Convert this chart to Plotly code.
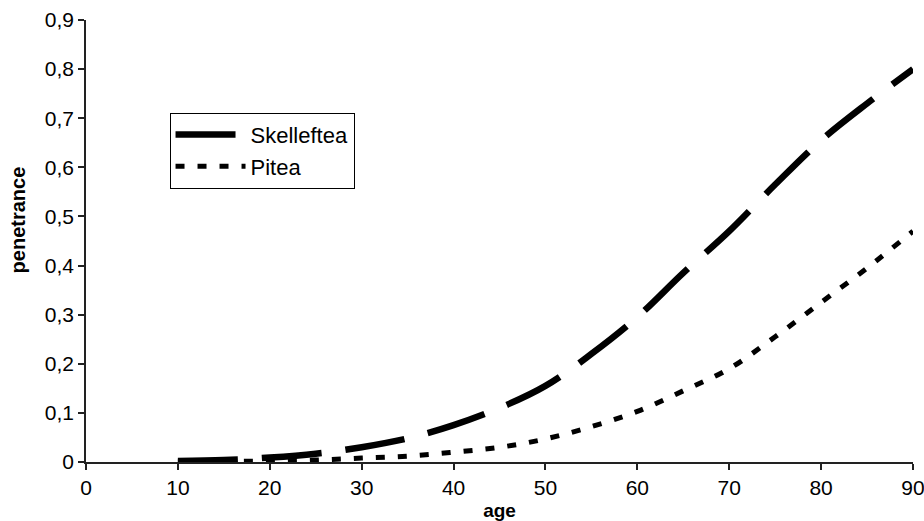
import plotly.graph_objects as go

age = [10, 15, 20, 25, 30, 35, 40, 45, 50, 55, 60, 65, 70, 75, 80, 85, 90]
skelleftea = [0.002, 0.004, 0.009, 0.017, 0.03, 0.048, 0.075, 0.11, 0.155, 0.22,
              0.295, 0.385, 0.47, 0.565, 0.655, 0.73, 0.80]
pitea = [0.0005, 0.001, 0.002, 0.004, 0.008, 0.012, 0.02, 0.03, 0.047, 0.072,
         0.103, 0.145, 0.19, 0.255, 0.325, 0.395, 0.47]

x_ticks = [0, 10, 20, 30, 40, 50, 60, 70, 80, 90]
y_ticks = [0, 0.1, 0.2, 0.3, 0.4, 0.5, 0.6, 0.7, 0.8, 0.9]
y_ticktext = ["0", "0,1", "0,2", "0,3", "0,4", "0,5", "0,6", "0,7", "0,8", "0,9"]

fig = go.Figure()
fig.add_trace(go.Scatter(x=age, y=skelleftea, mode="lines", name="Skelleftea",
                         legendgroup="a",
                         line=dict(color="black", width=6.5, dash="60px,24px", shape="spline")))
fig.add_trace(go.Scatter(x=age, y=pitea, mode="lines", name="Pitea",
                         legendgroup="b",
                         line=dict(color="black", width=5, dash="9px,13px", shape="spline")))

font = "Liberation Sans, Arial, sans-serif"
fig.update_layout(
    width=924, height=521,
    margin=dict(l=86, r=11, t=20, b=59),
    paper_bgcolor="white", plot_bgcolor="white",
    font=dict(family=font, color="black", size=19),
    showlegend=True,
    legend=dict(x=0.101, y=0.79, xanchor="left", yanchor="top",
                bordercolor="black", borderwidth=1, bgcolor="white",
                font=dict(size=22), tracegroupgap=0, itemwidth=70),
    xaxis=dict(range=[0, 90], tickvals=x_ticks, showgrid=False, zeroline=False,
               showline=True, linecolor="#222", linewidth=1.5,
               ticks="outside", ticklen=6, tickcolor="#222", tickwidth=1.5,
               tickfont=dict(size=21), automargin=False, ticklabeloverflow="allow",
               title=dict(text="<b>age</b>", font=dict(size=19), standoff=6)),
    yaxis=dict(range=[0, 0.9], tickvals=y_ticks, ticktext=y_ticktext,
               showgrid=False, zeroline=False,
               showline=True, linecolor="#222", linewidth=1.5,
               ticks="outside", ticklen=6, tickcolor="#222", tickwidth=1.5,
               tickfont=dict(size=21), automargin=False, ticklabeloverflow="allow"),
    annotations=[dict(text="<b>penetrance</b>", textangle=-90, showarrow=False,
                      xref="paper", yref="paper", x=-0.082, y=0.547,
                      xanchor="center", yanchor="middle", font=dict(size=20))],
)
fig.write_html("out.html", post_script="document.body.style.margin='0';",
               config={"displayModeBar": False})
